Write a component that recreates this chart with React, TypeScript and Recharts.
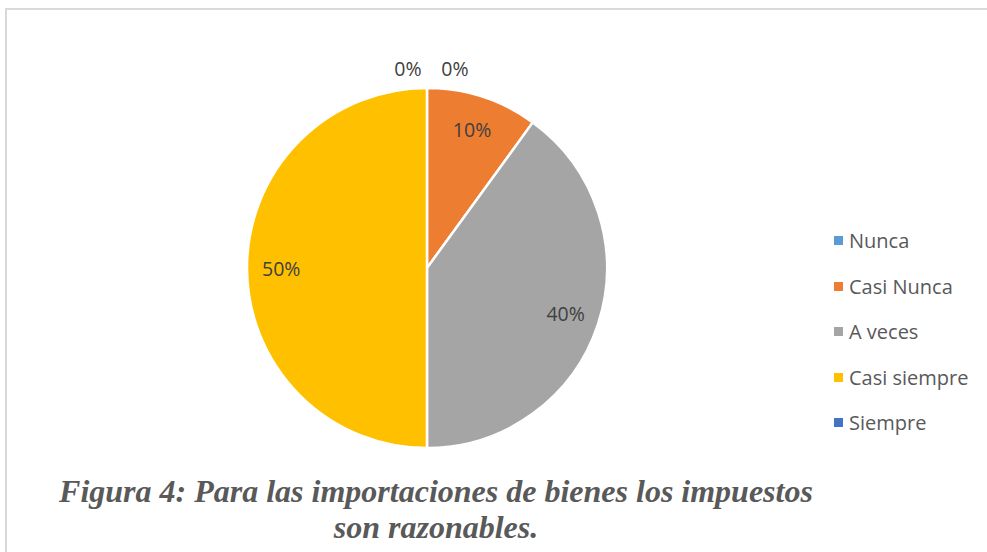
import { PieChart, Pie, Cell, Legend } from 'recharts';

const categories = ['Nunca', 'Casi Nunca', 'A veces', 'Casi siempre', 'Siempre'];
const shares = [0, 10, 40, 50, 0];
const colors = ['#5B9BD5', '#ED7D31', '#A5A5A5', '#FFC000', '#4472C4'];

const data = categories.map((name, i) => ({ name, value: shares[i] }));

const RAD = Math.PI / 180;

function SliceLabel(props: any) {
  const { cx, cy, midAngle, outerRadius, value, index } = props;
  let x: number;
  let y: number;
  if (value === 0) {
    // empty slices sit at the top; Excel pushes them outside, side by side
    x = cx + (index === 0 ? 28 : -19);
    y = cy - outerRadius - 20;
  } else {
    const r = outerRadius * 0.81;
    x = cx + r * Math.cos(-midAngle * RAD);
    y = cy + r * Math.sin(-midAngle * RAD);
  }
  return (
    <text x={x} y={y} fill="#404040" fontSize={19.5} fontFamily="'Open Sans', sans-serif"
      textAnchor="middle" dominantBaseline="central">
      {`${value}%`}
    </text>
  );
}

// keep the legend in data order (recharts sorts it by default)
function LegendList() {
  return (
    <div style={{ fontFamily: "'Open Sans', sans-serif", fontSize: 20, color: '#595959' }}>
      {categories.map((name, i) => (
        <div key={name} style={{ display: 'flex', alignItems: 'center', height: 45.5 }}>
          <span style={{ width: 9, height: 9, background: colors[i], marginRight: 6, display: 'inline-block' }} />
          {name}
        </div>
      ))}
    </div>
  );
}

export default function App() {
  return (
    <div style={{ position: 'absolute', left: 0, top: 0, width: 987, height: 552, overflow: 'hidden', background: '#fff' }}>
      <div style={{ position: 'absolute', left: 5, top: 8, width: 1000, height: 600, border: '2px solid #d9d9d9' }} />
      <div style={{ position: 'absolute', left: 0, top: 0 }}>
        <PieChart width={987} height={470}>
          <Pie
            data={data}
            dataKey="value"
            nameKey="name"
            cx={422}
            cy={263}
            outerRadius={180}
            startAngle={90}
            endAngle={-270}
            stroke="#ffffff"
            strokeWidth={2.5}
            label={SliceLabel}
            labelLine={false}
            isAnimationActive={false}
          >
            {data.map((d, i) => (
              <Cell key={d.name} fill={colors[i]} />
            ))}
          </Pie>
          <Legend
            layout="vertical"
            align="right"
            verticalAlign="top"
            content={<LegendList />}
            wrapperStyle={{ left: 834, top: 218, width: 150 }}
          />
        </PieChart>
      </div>
      <div style={{
        position: 'absolute', left: 0, top: 473, width: 872, textAlign: 'center',
        fontFamily: "'Liberation Serif', 'Times New Roman', serif", fontWeight: 'bold', fontStyle: 'italic',
        fontSize: 32, lineHeight: '36px', color: '#595959',
      }}>
        Figura 4: Para las importaciones de bienes los impuestos
        <br />
        son razonables.
      </div>
    </div>
  );
}
